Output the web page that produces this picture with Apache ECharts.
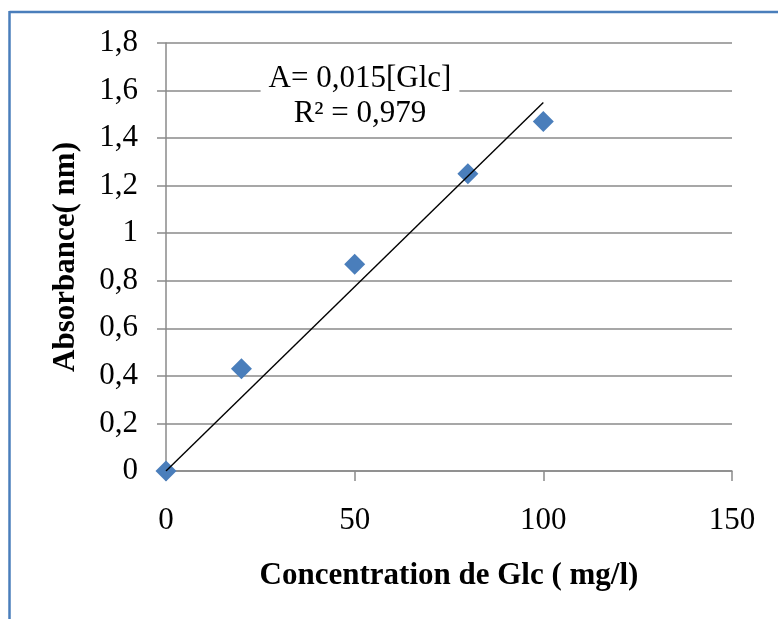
<!DOCTYPE html>
<html>
<head>
<meta charset="utf-8">
<script src="https://cdn.jsdelivr.net/npm/echarts@6/dist/echarts.min.js"></script>
<style>
html,body{margin:0;padding:0;background:#fff;}
#chart{width:778px;height:619px;}
</style>
</head>
<body>
<div id="chart"></div>
<script>
// Data
var concentrations = [0, 20, 50, 80, 100];
var absorbances = [0, 0.43, 0.87, 1.25, 1.47];
var trendX = [0, 100];
var trendY = [0, 1.55];
var xTicks = [0, 50, 100, 150];
var yTicks = [0, 0.2, 0.4, 0.6, 0.8, 1, 1.2, 1.4, 1.6, 1.8];
var xTitle = 'Concentration de Glc ( mg/l)';
var yTitle = 'Absorbance( nm)';
var equationLines = ['A= 0,015[Glc]', 'R\u00B2 = 0,979'];

var serif = "'Liberation Serif', 'Times New Roman', serif";
var gridGrey = '#8a8a8a';
var blue = '#4a7ebb';

function fmt(v) {
  return String(+(+v).toFixed(1)).replace('.', ',');
}

var chart = echarts.init(document.getElementById('chart'), null, {renderer: 'canvas'});
chart.setOption({
  animation: false,
  backgroundColor: '#fff',
  grid: {left: 166, right: 46, top: 43, bottom: 148, containLabel: false},
  xAxis: {
    type: 'value',
    min: xTicks[0], max: xTicks[xTicks.length - 1], interval: xTicks[1] - xTicks[0],
    name: xTitle, nameLocation: 'middle', nameGap: 89,
    nameTextStyle: {fontFamily: serif, fontWeight: 'bold', fontSize: 31, color: '#000'},
    axisLine: {show: true, lineStyle: {color: gridGrey, width: 1.5}},
    axisTick: {show: true, inside: false, length: 10, lineStyle: {color: gridGrey, width: 1.5}},
    axisLabel: {fontFamily: serif, fontSize: 31, color: '#000', margin: 34, formatter: fmt},
    splitLine: {show: false}
  },
  yAxis: {
    type: 'value',
    min: yTicks[0], max: yTicks[yTicks.length - 1], interval: 0.2,
    name: yTitle, nameLocation: 'middle', nameGap: 85, nameRotate: 90,
    nameTextStyle: {fontFamily: serif, fontWeight: 'bold', fontSize: 31, color: '#000'},
    axisLine: {show: true, lineStyle: {color: gridGrey, width: 1.5}},
    axisTick: {show: true, inside: false, length: 9, lineStyle: {color: gridGrey, width: 1.5}},
    axisLabel: {fontFamily: serif, fontSize: 31, color: '#000', margin: 28, formatter: fmt},
    splitLine: {show: true, lineStyle: {color: gridGrey, width: 1.5}}
  },
  series: [
    {
      type: 'scatter',
      data: concentrations.map(function (c, i) { return [c, absorbances[i]]; }),
      symbol: 'diamond',
      symbolSize: [21, 21],
      itemStyle: {color: blue, opacity: 1},
      z: 2
    },
    {
      type: 'line',
      data: trendX.map(function (x, i) { return [x, trendY[i]]; }),
      symbol: 'none',
      lineStyle: {color: '#000', width: 1.4},
      z: 3
    }
  ],
  graphic: [
    {
      type: 'line',
      shape: {x1: 9.5, y1: 12, x2: 778, y2: 12},
      style: {stroke: blue, lineWidth: 2.5}
    },
    {
      type: 'line',
      shape: {x1: 9.5, y1: 11, x2: 9.5, y2: 619},
      style: {stroke: blue, lineWidth: 2.5}
    },
    {
      type: 'text',
      x: 360, y: 96,
      z: 10,
      style: {
        text: equationLines.join('\n'),
        font: '31px ' + serif,
        fill: '#000',
        align: 'center',
        verticalAlign: 'middle',
        lineHeight: 35,
        backgroundColor: '#fff',
        padding: [0, 8]
      }
    }
  ]
});
</script>
</body>
</html>
